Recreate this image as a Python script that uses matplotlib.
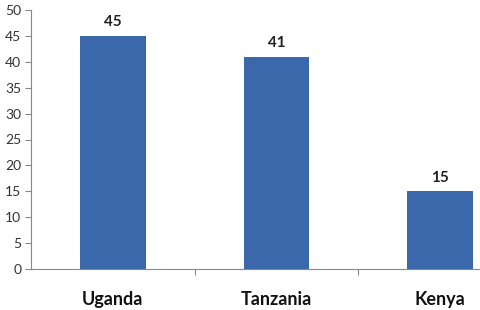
import matplotlib.pyplot as plt
import numpy as np

countries = ["Uganda", "Tanzania", "Kenya"]
values = [45, 41, 15]
y_ticks = [0, 5, 10, 15, 20, 25, 30, 35, 40, 45, 50]

plt.rcParams['font.family'] = ['Lato', 'DejaVu Sans']

fig = plt.figure(figsize=(4.81, 3.10), dpi=100)
# plot area runs past the right edge (the original was cropped)
ax = fig.add_axes([31 / 481, 41 / 310, 491 / 481, 259 / 310])

x = np.arange(len(countries))
ax.bar(x, values, width=0.4, color="#3A68AA")

for xi, v in zip(x, values):
    ax.text(xi, v + 1.3, str(v), ha="center", va="bottom",
            fontsize=11, fontweight="bold", color="#222222")

ax.set_xlim(-0.5, 2.5)
ax.set_ylim(0, 50)
ax.set_yticks(y_ticks)
ax.tick_params(axis="y", length=4, width=0.8, color="#888888",
               labelsize=10, labelcolor="#333333", pad=3)

# category ticks sit between the groups
ax.set_xticks([0.5, 1.5, 2.5], minor=True)
ax.set_xticks(x)
ax.set_xticklabels(countries, fontsize=13, fontweight="bold", color="#111111")
ax.tick_params(axis="x", which="major", length=0, pad=16)
ax.tick_params(axis="x", which="minor", length=4, width=0.8, color="#888888")

for side in ["top", "right"]:
    ax.spines[side].set_visible(False)
for side in ["left", "bottom"]:
    ax.spines[side].set_color("#888888")
    ax.spines[side].set_linewidth(0.8)

fig.savefig("out.png", dpi=100)
